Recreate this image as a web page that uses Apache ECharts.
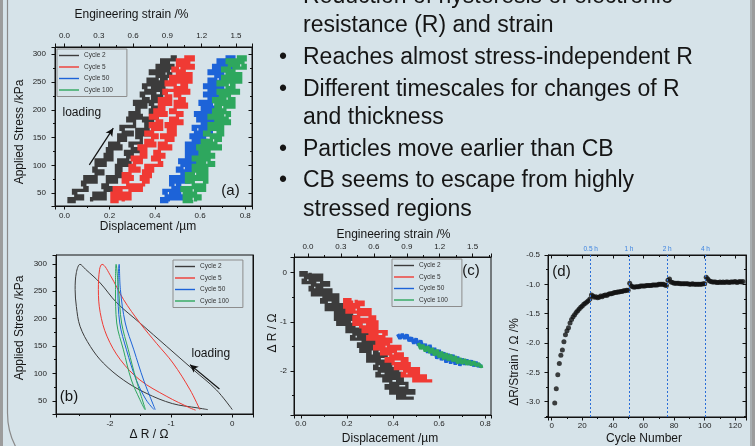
<!DOCTYPE html>
<html>
<head>
<meta charset="utf-8">
<script src="https://cdn.jsdelivr.net/npm/echarts@6/dist/echarts.min.js"></script>
<style>
  html, body { margin: 0; padding: 0; background: #d6e3e9; }
  #myChart { width: 755px; height: 446px; }
</style>
</head>
<body>
<div id="myChart"></div>
<script>
// ---------- data ----------
var cycleNames = ['Cycle 2', 'Cycle 5', 'Cycle 50', 'Cycle 100'];

// (a) applied stress levels /kPa and displacement /um (loading, unloading branch)
var stressA = [35, 40, 45, 50, 55, 60, 65, 70, 75, 80, 85, 90, 95, 100, 105, 110, 115, 120, 125, 130, 135, 140, 145, 150, 155, 160,
  165, 170, 175, 180, 185, 190, 195, 200, 205, 210, 215, 220, 225, 230, 235, 240, 245, 250, 255, 260, 265, 270, 275, 280, 285, 290, 295];
var dispA2Load = [.05, .02, .08, .05, .04, .10, .09, .08, .14, .09, .14, .17, .13, .14, .18, .14, .21, .18, .21, .19, .25, .20, .24, .27, .24, .30,
  .26, .25, .31, .31, .28, .34, .29, .33, .32, .36, .31, .37, .35, .34, .40, .36, .35, .40, .37, .41, .44, .38, .43, .41, .46, .44, .48];
var dispA2Unload = [.12, .18, .13, .18, .21, .17, .19, .23, .19, .26, .23, .25, .23, .29, .24, .28, .30, .27, .33, .30, .29, .34, .34, .32, .38, .32,
  .37, .36, .39, .35, .41, .39, .38, .43, .39, .38, .43, .39, .43, .45, .39, .44, .41, .45, .43, .47, .46, .43, .48, .45, .43, .49, .47];
var dispA5Load = [.24, .21, .25, .21, .25, .22, .29, .28, .26, .30, .26, .29, .33, .29, .31, .34, .30, .36, .34, .36, .33, .40, .36, .39, .41, .36,
  .39, .43, .38, .43, .41, .38, .45, .40, .44, .42, .47, .42, .47, .45, .44, .50, .49, .45, .52, .47, .50, .52, .48, .50, .55, .50, .55];
var dispA5Unload = [.26, .29, .25, .29, .34, .30, .35, .37, .34, .38, .35, .39, .36, .43, .42, .39, .44, .40, .42, .47, .42, .45, .48, .43, .49, .46,
  .49, .45, .52, .47, .50, .52, .47, .49, .54, .49, .53, .51, .49, .55, .50, .54, .52, .56, .51, .56, .53, .52, .57, .55, .51, .57, .53];
var dispA50Load = [.46, .43, .49, .45, .44, .50, .48, .47, .53, .47, .52, .55, .50, .52, .55, .51, .57, .54, .56, .54, .59, .54, .57, .60, .56, .62,
  .58, .57, .62, .61, .59, .64, .58, .63, .61, .64, .60, .65, .64, .62, .67, .64, .62, .67, .64, .67, .70, .64, .68, .66, .70, .68, .72];
var dispA50Unload = [.46, .52, .47, .51, .54, .50, .51, .55, .51, .57, .54, .57, .54, .60, .54, .58, .60, .57, .62, .59, .57, .63, .62, .60, .65, .60,
  .64, .63, .66, .61, .67, .65, .63, .69, .65, .63, .69, .65, .69, .71, .65, .70, .67, .71, .69, .73, .73, .69, .74, .71, .69, .75, .73];
var dispA100Load = [.57, .53, .56, .53, .56, .52, .59, .57, .54, .59, .54, .57, .61, .57, .59, .62, .57, .63, .60, .63, .59, .66, .61, .65, .66, .62,
  .64, .68, .64, .68, .67, .64, .70, .66, .69, .67, .72, .66, .71, .69, .68, .73, .72, .68, .75, .70, .72, .75, .70, .73, .77, .72, .77];
var dispA100Unload = [.58, .60, .55, .58, .62, .57, .62, .63, .59, .63, .59, .63, .59, .66, .64, .62, .66, .62, .64, .69, .64, .67, .69, .65, .70, .68,
  .70, .66, .73, .68, .72, .73, .68, .71, .75, .70, .75, .73, .70, .77, .72, .75, .74, .78, .73, .78, .75, .75, .80, .79, .75, .80, .77];
var arrowA = [[0.11, 101], [0.216, 167]];

// (b) delta R /Ohm vs applied stress /kPa (closed loops)
var drB2 = [0.00, -0.26, -0.64, -1.07, -1.51, -1.89, -2.16, -2.40, -2.49, -2.55, -2.57, -2.55, -2.49, -2.32, -2.11, -1.78, -1.41, -0.98, -0.56, -0.40];
var stressB2 = [34, 70, 107, 149, 192, 229, 265, 290, 299, 284, 253, 222, 186, 149, 119, 88, 64, 45, 37, 34];
var drB5 = [-0.53, -0.69, -0.97, -1.24, -1.51, -1.78, -1.99, -2.13, -2.17, -2.19, -2.16, -2.05, -1.83, -1.51, -1.07, -0.69, -0.60];
var stressB5 = [34, 70, 119, 155, 192, 235, 278, 299, 290, 253, 211, 168, 125, 88, 58, 37, 33];
var drB50 = [-1.26, -1.45, -1.61, -1.75, -1.83, -1.85, -1.87, -1.84, -1.73, -1.57, -1.41, -1.28];
var stressB50 = [34, 88, 143, 192, 253, 299, 253, 192, 143, 88, 52, 34];
var drB100 = [-1.42, -1.57, -1.70, -1.81, -1.86, -1.90, -1.91, -1.89, -1.78, -1.65, -1.51, -1.43];
var stressB100 = [34, 88, 143, 192, 253, 299, 253, 192, 143, 88, 52, 34];
var arrowB = [[-0.21, 71.5], [-0.69, 116]];

// (c) delta R levels /Ohm and displacement /um of both branches
var levelsC2 = [0, -0.05, -0.1, -0.15, -0.2, -0.25, -0.3, -0.35, -0.4, -0.45, -0.5, -0.55, -0.6, -0.65, -0.7, -0.75, -0.8, -0.85, -0.9, -0.95,
  -1.0, -1.05, -1.1, -1.15, -1.2, -1.25, -1.3, -1.35, -1.4, -1.45, -1.5, -1.55, -1.6, -1.65, -1.7, -1.75, -1.8, -1.85, -1.9, -1.95,
  -2.0, -2.05, -2.1, -2.15, -2.2, -2.25, -2.3, -2.35, -2.4, -2.45, -2.5, -2.55];
var dispC2A = [.03, .00, .05, .02, .01, .06, .05, .04, .10, .05, .10, .13, .09, .11, .15, .11, .18, .15, .18, .15, .21, .16, .20, .23, .20, .26,
  .23, .22, .28, .27, .25, .31, .26, .30, .29, .33, .29, .34, .33, .32, .38, .34, .33, .39, .36, .39, .42, .37, .42, .39, .44, .42];
var dispC2B = [.04, .09, .04, .09, .12, .07, .09, .13, .09, .16, .13, .16, .14, .20, .15, .19, .22, .19, .25, .21, .20, .26, .26, .24, .30, .25,
  .30, .29, .33, .28, .34, .33, .32, .37, .34, .33, .39, .35, .39, .42, .37, .43, .39, .44, .42, .46, .46, .43, .49, .45, .44, .49];
var levelsC5 = [-0.55, -0.6, -0.65, -0.7, -0.75, -0.8, -0.85, -0.9, -0.95, -1.0, -1.05, -1.1, -1.15, -1.2, -1.25, -1.3, -1.35,
  -1.4, -1.45, -1.5, -1.55, -1.6, -1.65, -1.7, -1.75, -1.8, -1.85, -1.9, -1.95, -2.0, -2.05, -2.1, -2.15, -2.2];
var dispC5A = [.22, .19, .22, .19, .23, .20, .26, .25, .23, .28, .23, .26, .31, .27, .30, .33, .29,
  .35, .33, .36, .32, .39, .35, .39, .41, .37, .40, .45, .41, .46, .45, .44, .52, .49];
var dispC5B = [.24, .27, .22, .25, .30, .26, .30, .32, .29, .33, .29, .33, .30, .37, .36, .34, .39,
  .35, .38, .43, .38, .41, .44, .40, .46, .44, .47, .44, .51, .47, .51, .54, .53, .57];
var dispC50 = [.42, .43, .44, .45, .46, .47, .48, .49, .50, .51, .52, .53, .54, .55, .56, .57, .58, .59, .60,
  .61, .62, .63, .64, .65, .66, .67, .68, .69, .70, .71, .72, .73, .74, .75, .76, .77, .78];
var drC50 = [-1.25, -1.34, -1.25, -1.34, -1.26, -1.39, -1.32, -1.44, -1.34, -1.48, -1.38, -1.54, -1.45, -1.63, -1.47, -1.68, -1.53, -1.75, -1.57,
  -1.78, -1.62, -1.83, -1.65, -1.85, -1.67, -1.87, -1.71, -1.89, -1.75, -1.87, -1.77, -1.87, -1.79, -1.90, -1.82, -1.91, -1.85];
var dispC100 = [.51, .52, .53, .54, .55, .56, .57, .58, .59, .60, .61, .62, .63, .64, .65,
  .66, .67, .68, .69, .70, .71, .72, .73, .74, .75, .76, .77, .78, .79];
var drC100 = [-1.43, -1.55, -1.47, -1.60, -1.50, -1.63, -1.54, -1.68, -1.57, -1.72, -1.61, -1.76, -1.64, -1.78, -1.67,
  -1.80, -1.70, -1.84, -1.74, -1.85, -1.76, -1.87, -1.79, -1.88, -1.81, -1.89, -1.85, -1.91, -1.90];

// (d) dR/strain per cycle
var cycleD = [2, 3, 4, 5, 6, 7, 8, 9, 10, 11, 12, 13, 14, 15, 16, 17, 18, 19, 20, 21, 22, 23, 24, 25,
  26, 27, 28, 29, 30, 31, 32, 33, 34, 35, 36, 37, 38, 39, 40, 41, 42, 43, 44, 45, 46, 47, 48, 49, 50,
  51, 52, 53, 54, 55, 56, 57, 58, 59, 60, 61, 62, 63, 64, 65, 66, 67, 68, 69, 70, 71, 72, 73, 74, 75,
  76, 77, 78, 79, 80, 81, 82, 83, 84, 85, 86, 87, 88, 89, 90, 91, 92, 93, 94, 95, 96, 97, 98, 99, 100,
  101, 102, 103, 104, 105, 106, 107, 108, 109, 110, 111, 112, 113, 114, 115, 116, 117, 118, 119, 120, 121, 122, 123, 124, 125];
var valueD = [-3.02, -2.78, -2.54, -2.35, -2.21, -2.12, -1.98, -1.86, -1.79, -1.74, -1.66, -1.60, -1.55, -1.52, -1.48, -1.45, -1.42, -1.39, -1.37, -1.34, -1.32, -1.30, -1.28, -1.25,
  -1.18, -1.20, -1.22, -1.21, -1.23, -1.22, -1.20, -1.21, -1.19, -1.18, -1.19, -1.17, -1.16, -1.16, -1.15, -1.14, -1.14, -1.13, -1.13, -1.12, -1.12, -1.11, -1.11, -1.10, -1.10,
  -0.98, -1.03, -1.04, -1.05, -1.04, -1.04, -1.04, -1.03, -1.03, -1.03, -1.03, -1.02, -1.02, -1.02, -1.02, -1.01, -1.01, -1.01, -1.01, -1.00, -1.00, -1.00, -1.00, -1.01, -1.02,
  -0.93, -0.91, -0.96, -0.97, -0.98, -0.98, -0.98, -0.98, -0.99, -0.99, -0.99, -0.99, -0.99, -0.99, -1.00, -1.00, -0.99, -1.00, -1.00, -1.00, -1.00, -1.00, -1.00, -0.99, -0.99,
  -0.88, -0.91, -0.94, -0.95, -0.96, -0.96, -0.96, -0.97, -0.97, -0.96, -0.97, -0.96, -0.97, -0.96, -0.96, -0.97, -0.96, -0.96, -0.96, -0.95, -0.97, -0.96, -0.95, -0.96, -0.95];
var restCycles = [25.5, 50.5, 75.5, 100.5];
var restLabels = ['0.5 h', '1 h', '2 h', '4 h'];

var bullets = [
  {text: 'Reduction of hysteresis of electronic', y: -3, dot: true},
  {text: 'resistance (R) and strain', y: 26},
  {text: 'Reaches almost stress-independent R', y: 58, dot: true},
  {text: 'Different timescales for changes of R', y: 90, dot: true},
  {text: 'and thickness', y: 118},
  {text: 'Particles move earlier than CB', y: 150, dot: true},
  {text: 'CB seems to escape from highly', y: 181, dot: true},
  {text: 'stressed regions', y: 210}
];

// ---------- helpers ----------
var C2 = '#3c3c3c', C5 = '#f03a34', C50 = '#1d63d8', C100 = '#2ea75e';
var colors = [C2, C5, C50, C100];
var FONT = '"Liberation Sans", Arial, sans-serif';
var INK = '#151515';

function loop(up, down, levels) {
  var pts = [];
  for (var i = 0; i < levels.length; i++) pts.push([up[i], levels[i]]);
  for (var j = levels.length - 1; j >= 0; j--) pts.push([down[j], levels[j]]);
  return pts;
}
function zip(xs, ys) {
  return xs.map(function (x, i) { return [x, ys[i]]; });
}
function tickFmt(step, digits) {
  return function (v) {
    var k = v / step;
    return Math.abs(k - Math.round(k)) < 1e-6 ? (Math.abs(v) < 1e-9 ? 0 : v).toFixed(digits) : '';
  };
}
function lab(step, digits, margin) {
  return {show: true, color: '#1e1e1e', fontSize: 8, fontFamily: FONT, margin: margin, formatter: tickFmt(step, digits)};
}
var inTick = {show: true, inside: true, length: 3.5, lineStyle: {color: '#111'}};
var inMinor = {show: true, splitNumber: 2, length: 2, lineStyle: {color: '#111'}};
var noLab = {show: false};
function valAxis(o) {
  var a = {
    type: 'value',
    splitLine: {show: false},
    axisLine: {show: true, onZero: false, lineStyle: {color: '#111', width: 1}},
    axisTick: {show: true, inside: false, length: 3.5, lineStyle: {color: '#111', width: 1}},
    minorTick: {show: true, splitNumber: 2, length: 2, lineStyle: {color: '#111', width: 1}}
  };
  for (var k in o) a[k] = o[k];
  return a;
}
// noisy measurement bands: short horizontal dashes joined as a step line
function noisy(name, color, xi, yi, data, width, step) {
  return {
    name: name, type: 'line', xAxisIndex: xi, yAxisIndex: yi, data: data,
    step: step, symbol: 'none', smooth: false, silent: true,
    lineStyle: {color: color, width: width, join: step ? 'miter' : 'bevel'}, itemStyle: {color: color}
  };
}
function legendAt(left, top) {
  return {
    data: cycleNames, left: left, top: top, orient: 'vertical', selectedMode: false,
    icon: 'rect', itemWidth: 20, itemHeight: 1.4, itemGap: 4.5, padding: [3, 14, 3, 2],
    borderColor: '#8d8d8d', borderWidth: 1,
    textStyle: {fontSize: 6.5, color: '#333', fontFamily: FONT}
  };
}
function txt(text, x, y, size, rot, align) {
  return {
    type: 'text', x: x, y: y, rotation: rot || 0, silent: true,
    style: {
      text: text, fill: INK, font: size + 'px ' + FONT,
      align: align || 'center', verticalAlign: 'middle',
      textAlign: align || 'center', textVerticalAlign: 'middle'
    }
  };
}

// ---------- series ----------
var series = [];
// (a)
series.push(noisy('Cycle 2', C2, 0, 0, loop(dispA2Load, dispA2Unload, stressA), 3.3, 'end'));
series[0].markLine = {
  silent: true, symbol: ['none', 'arrow'], symbolSize: [6, 8],
  lineStyle: {color: '#111', width: 1.2, type: 'solid'}, label: {show: false},
  data: [[{coord: arrowA[0]}, {coord: arrowA[1]}]]
};
series.push(noisy('Cycle 5', C5, 0, 0, loop(dispA5Load, dispA5Unload, stressA), 3.3, 'end'));
series.push(noisy('Cycle 50', C50, 0, 0, loop(dispA50Load, dispA50Unload, stressA), 3.3, 'end'));
series.push(noisy('Cycle 100', C100, 0, 0, loop(dispA100Load, dispA100Unload, stressA), 3.3, 'end'));
// (b)
[[drB2, stressB2], [drB5, stressB5], [drB50, stressB50], [drB100, stressB100]].forEach(function (p, i) {
  var s = {
    name: cycleNames[i], type: 'line', xAxisIndex: 2, yAxisIndex: 2, data: zip(p[0], p[1]),
    symbol: 'none', smooth: 0.35, silent: true,
    lineStyle: {color: colors[i], width: 1}, itemStyle: {color: colors[i]}
  };
  if (i === 0) {
    s.markLine = {
      silent: true, symbol: ['none', 'arrow'], symbolSize: [6, 8],
      lineStyle: {color: '#111', width: 1.2, type: 'solid'}, label: {show: false},
      data: [[{coord: arrowB[0]}, {coord: arrowB[1]}]]
    };
  }
  series.push(s);
});
// (c)
series.push(noisy('Cycle 2', C2, 3, 4, loop(dispC2A, dispC2B, levelsC2), 3.3, 'end'));
series.push(noisy('Cycle 5', C5, 3, 4, loop(dispC5A, dispC5B, levelsC5), 3.3, 'end'));
series.push(noisy('Cycle 50', C50, 3, 4, zip(dispC50, drC50), 3.5, false));
series.push(noisy('Cycle 100', C100, 3, 4, zip(dispC100, drC100), 3.5, false));
// (d)
series.push({
  name: 'dR/strain', type: 'scatter', xAxisIndex: 5, yAxisIndex: 5, data: zip(cycleD, valueD),
  symbol: 'circle', symbolSize: 5, silent: true, itemStyle: {color: '#111'},
  markLine: {
    silent: true, symbol: 'none',
    lineStyle: {color: '#2a6ed8', width: 1, type: [2, 2]},
    label: {show: true, position: 'end', formatter: '{b}', color: '#3b82e0', fontSize: 6.5, fontFamily: FONT, distance: 2},
    data: restCycles.map(function (c, i) { return {xAxis: c, name: restLabels[i]}; })
  }
});

// ---------- graphic: frame, bullets, titles ----------
var graphics = [
  {type: 'rect', silent: true, z: -10, shape: {x: 0, y: 0, width: 3, height: 446}, style: {fill: '#9c9c9c'}},
  {type: 'rect', silent: true, z: -10, shape: {x: 752, y: 0, width: 3, height: 446}, style: {fill: '#9c9c9c'}},
  {type: 'rect', silent: true, z: -9, shape: {x: 7.5, y: -20, width: 743.5, height: 505, r: [0, 0, 0, 72]},
    style: {fill: 'none', stroke: '#8a8a8a', lineWidth: 1.2}}
];
bullets.forEach(function (b) {
  if (b.dot) graphics.push(txt('\u2022', 283, b.y, 23, 0, 'center'));
  graphics.push(txt(b.text, 303, b.y, 23, 0, 'left'));
});
graphics.push(
  txt('Engineering strain /%', 131.5, 15, 12),
  txt('Displacement /\u00b5m', 148, 227, 12),
  txt('Applied Stress /kPa', 20, 132, 12, Math.PI / 2),
  txt('loading', 62.5, 113, 12, 0, 'left'),
  txt('(a)', 230.5, 190.5, 15),
  txt('Applied Stress /kPa', 20, 328, 12, Math.PI / 2),
  txt('\u0394 R / \u03a9', 149, 435, 12),
  txt('loading', 191.5, 354, 12, 0, 'left'),
  txt('(b)', 69, 396.5, 15),
  txt('Engineering strain /%', 393.5, 235, 12),
  txt('Displacement /\u00b5m', 390, 439, 12),
  txt('\u0394 R / \u03a9', 272.5, 333, 12, Math.PI / 2),
  txt('(c)', 471, 270.5, 15),
  txt('\u0394R/Strain / \u03a9 /%', 515, 362, 12, Math.PI / 2),
  txt('Cycle Number', 644, 439, 12),
  txt('(d)', 561.5, 271.5, 15)
);

// ---------- chart ----------
var myChart = echarts.init(document.getElementById('myChart'));
myChart.setOption({
  backgroundColor: '#d6e3e9',
  animation: false,
  color: colors,
  textStyle: {fontFamily: FONT},
  grid: [
    {left: 55, top: 47, width: 197, height: 159, show: true, borderColor: '#111', borderWidth: 1, backgroundColor: 'transparent'},
    {left: 56, top: 255, width: 197, height: 159, show: true, borderColor: '#111', borderWidth: 1, backgroundColor: 'transparent'},
    {left: 294, top: 257, width: 197, height: 158, show: true, borderColor: '#111', borderWidth: 1, backgroundColor: 'transparent'},
    {left: 548, top: 255, width: 198, height: 162, show: true, borderColor: '#111', borderWidth: 1, backgroundColor: 'transparent'}
  ],
  legend: [legendAt(57, 49), legendAt(173, 260), legendAt(392, 259)],
  xAxis: [
    valAxis({gridIndex: 0, position: 'bottom', min: -0.042, max: 0.83, axisLabel: lab(0.2, 1, 6)}),
    valAxis({gridIndex: 0, position: 'top', min: -0.083, max: 1.64, axisLabel: lab(0.3, 1, 7)}),
    valAxis({gridIndex: 1, position: 'bottom', min: -2.883, max: 0.339, splitNumber: 3, axisLabel: lab(1, 0, 6)}),
    valAxis({gridIndex: 2, position: 'bottom', min: -0.03, max: 0.825, axisLabel: lab(0.2, 1, 5)}),
    valAxis({gridIndex: 2, position: 'top', min: -0.127, max: 1.667, axisLabel: lab(0.3, 1, 6)}),
    valAxis({gridIndex: 3, position: 'bottom', min: -2.4, max: 127, splitNumber: 7, axisLabel: lab(20, 0, 5)}),
    valAxis({gridIndex: 3, position: 'top', min: -2.4, max: 127, splitNumber: 7, axisLabel: noLab, axisTick: inTick, minorTick: inMinor})
  ],
  yAxis: [
    valAxis({gridIndex: 0, position: 'left', min: 27, max: 313, axisLabel: lab(50, 0, 9)}),
    valAxis({gridIndex: 0, position: 'right', min: 27, max: 313, axisLabel: noLab, axisTick: inTick, minorTick: inMinor}),
    valAxis({gridIndex: 1, position: 'left', min: 26, max: 316, axisLabel: lab(50, 0, 9)}),
    valAxis({gridIndex: 1, position: 'right', min: 26, max: 316, axisLabel: noLab, axisTick: {show: false}, minorTick: {show: false}}),
    valAxis({gridIndex: 2, position: 'left', min: -2.895, max: 0.32, splitNumber: 3, axisLabel: lab(1, 0, 7)}),
    valAxis({gridIndex: 3, position: 'left', min: -3.26, max: -0.5, axisLabel: lab(0.5, 1, 8)}),
    valAxis({gridIndex: 3, position: 'right', min: -3.26, max: -0.5, axisLabel: noLab, axisTick: inTick, minorTick: inMinor})
  ],
  series: series,
  graphic: {elements: graphics}
});
</script>
</body>
</html>
